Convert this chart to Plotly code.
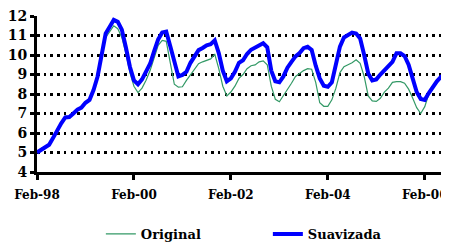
import plotly.graph_objects as go

months = list(range(102))
tick_positions = [0, 24, 48, 72, 96]
tick_labels = ["Feb-98", "Feb-00", "Feb-02", "Feb-04", "Feb-06"]

original = [
    5.0, 5.2, 5.3, 5.35, 5.8, 6.2, 6.5, 6.85, 6.85, 7.0,
    7.25, 7.35, 7.55, 7.7, 8.2, 8.9, 9.9, 10.9, 11.2, 11.5,
    11.35, 10.9, 10.1, 9.1, 8.4, 8.07, 8.3, 8.7, 9.2, 9.9,
    10.5, 10.75, 10.7, 9.6, 8.5, 8.35, 8.37, 8.7, 9.0, 9.25,
    9.55, 9.65, 9.74, 9.8, 10.05, 9.3, 8.4, 7.9, 8.1, 8.4,
    8.8, 9.0, 9.3, 9.45, 9.49, 9.65, 9.7, 9.5, 8.4, 7.73,
    7.6, 7.9, 8.2, 8.55, 8.9, 9.05, 9.2, 9.3, 9.27, 8.6,
    7.55, 7.37, 7.37, 7.7, 8.3, 9.1, 9.4, 9.5, 9.6, 9.75,
    9.57, 8.9, 7.9, 7.65, 7.62, 7.78, 8.1, 8.3, 8.6, 8.63,
    8.63, 8.55, 8.25, 7.8, 7.3, 7.0, 7.35, 8.0, 8.3, 8.63,
    8.85, 8.8,
]

suavizada = [
    5.0, 5.15, 5.28, 5.4, 5.75, 6.15, 6.5, 6.8, 6.82, 7.0,
    7.2, 7.3, 7.55, 7.7, 8.2, 8.9, 9.9, 11.1, 11.45, 11.8,
    11.7, 11.3, 10.4, 9.4, 8.7, 8.5, 8.75, 9.1, 9.55, 10.2,
    10.8, 11.15, 11.2, 10.45, 9.65, 8.9, 8.98, 9.14, 9.6, 9.9,
    10.25, 10.36, 10.5, 10.55, 10.75, 10.1, 9.2, 8.65, 8.8, 9.14,
    9.6, 9.73, 10.05, 10.27, 10.4, 10.52, 10.6, 10.4, 9.2, 8.65,
    8.6, 8.9, 9.35, 9.65, 9.93, 10.1, 10.35, 10.42, 10.26, 9.45,
    8.8, 8.42, 8.37, 8.6, 9.6, 10.43, 10.9, 11.0, 11.15, 11.1,
    10.85, 10.0, 9.05, 8.7, 8.75, 9.0, 9.2, 9.4, 9.65, 10.09,
    10.09, 9.95, 9.5, 8.8, 8.1, 7.75, 7.7, 8.05, 8.4, 8.65,
    8.88, 8.8,
]

FONT = "DejaVu Serif"

fig = go.Figure()
fig.add_trace(go.Scatter(
    x=months, y=original, name="<b>Original</b>", mode="lines",
    line=dict(color="#339966", width=1.2),
))
fig.add_trace(go.Scatter(
    x=months, y=suavizada, name="<b>Suavizada</b>", mode="lines",
    line=dict(color="#0000FF", width=4),
))

# page body has an 8px default margin, so the figure is 8px smaller
fig.update_layout(
    width=441, height=236,
    margin=dict(l=29, r=0, t=8, b=72, autoexpand=False),
    paper_bgcolor="white", plot_bgcolor="white",
    font=dict(family=FONT, size=13, color="black"),
    showlegend=True,
    legend=dict(
        orientation="h", x=0.155, xanchor="left", y=-0.397, yanchor="middle",
        font=dict(family=FONT, size=13, color="black"),
        entrywidth=122, entrywidthmode="pixels",
        bgcolor="rgba(0,0,0,0)",
    ),
)
fig.update_xaxes(
    range=[0, 102], tickmode="array", tickvals=tick_positions,
    ticktext=["<b>%s</b>" % t for t in tick_labels],
    showgrid=False, zeroline=False, automargin=False,
    ticklabeloverflow="allow",
    showline=True, linecolor="black", linewidth=3,
    ticks="outside", ticklen=5, tickwidth=3, tickcolor="black",
    ticklabelstandoff=5,
    tickfont=dict(family=FONT, size=12, color="black"),
)
fig.update_yaxes(
    range=[4, 12], tickmode="linear", tick0=4, dtick=1,
    tickformat="d", automargin=False,
    ticklabeloverflow="allow",
    showgrid=True, gridcolor="black", gridwidth=2.5, griddash="2.5px,4.2px",
    zeroline=False,
    showline=True, linecolor="black", linewidth=3,
    ticks="outside", ticklen=4, tickwidth=3, tickcolor="black",
    ticklabelstandoff=0,
    tickfont=dict(family=FONT, size=14, color="black", weight="bold"),
)

fig.write_html("out.html")
